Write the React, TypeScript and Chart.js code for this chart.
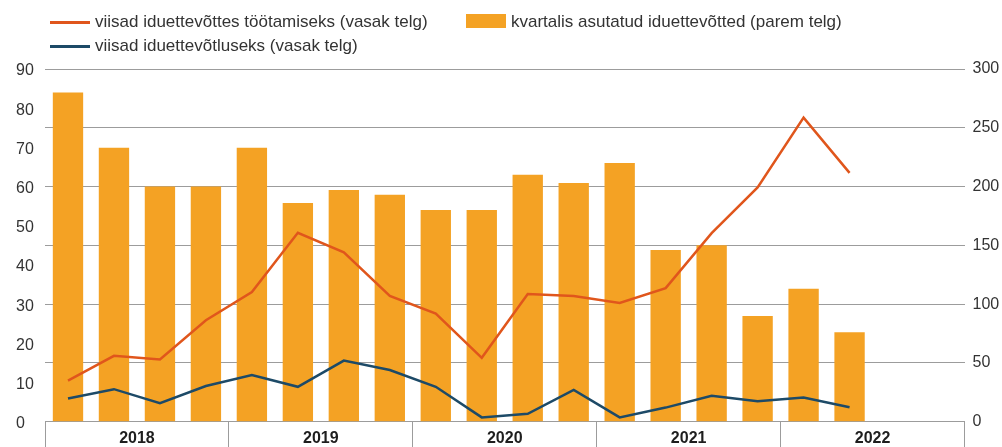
import React, { useEffect, useRef } from 'react';
import { Chart, registerables } from 'chart.js';

Chart.register(...registerables);

const quarters = [
  '2018 I', '2018 II', '2018 III', '2018 IV',
  '2019 I', '2019 II', '2019 III', '2019 IV',
  '2020 I', '2020 II', '2020 III', '2020 IV',
  '2021 I', '2021 II', '2021 III', '2021 IV',
  '2022 I', '2022 II', '2022 III', '2022 IV',
];
const years = ['2018', '2019', '2020', '2021', '2022'];

// right axis (bars)
const startupsFounded = [280, 233, 200, 200, 233, 186, 197, 193, 180, 180, 210, 203, 220, 146, 150, 90, 113, 76];
// left axis (lines)
const visasEmployment = [10.5, 16.8, 15.9, 25.9, 33.1, 48.2, 43.2, 32.1, 27.6, 16.3, 32.6, 32.1, 30.3, 34.1, 48.1, 59.8, 77.6, 63.5];
const visasEntrepreneurship = [5.9, 8.3, 4.7, 9.1, 11.9, 8.9, 15.6, 13.2, 8.9, 1.1, 2.0, 8.1, 1.1, 3.6, 6.6, 5.2, 6.2, 3.7];

const labelEmployment = 'viisad iduettevõttes töötamiseks (vasak telg)';
const labelEntrepreneurship = 'viisad iduettevõtluseks (vasak telg)';
const labelFounded = 'kvartalis asutatud iduettevõtted (parem telg)';

const ORANGE_BAR = '#F4A224';
const ORANGE_LINE = '#E0561C';
const BLUE_LINE = '#1D4A67';
const GRID = '#9c9c9c';
const FONT = '"Liberation Sans", Arial, Helvetica, sans-serif';

export default function App() {
  const ref = useRef<HTMLCanvasElement | null>(null);

  useEffect(() => {
    if (!ref.current) return;
    Chart.defaults.font.family = FONT;
    const chart = new Chart(ref.current, {
      type: 'bar',
      data: {
        labels: quarters,
        datasets: [
          {
            type: 'line',
            label: labelEmployment,
            data: visasEmployment,
            borderColor: ORANGE_LINE,
            backgroundColor: ORANGE_LINE,
            borderWidth: 2.5,
            pointRadius: 0,
            tension: 0,
            xAxisID: 'x',
            yAxisID: 'y',
          },
          {
            type: 'line',
            label: labelEntrepreneurship,
            data: visasEntrepreneurship,
            borderColor: BLUE_LINE,
            backgroundColor: BLUE_LINE,
            borderWidth: 2.5,
            pointRadius: 0,
            tension: 0,
            xAxisID: 'x',
            yAxisID: 'y',
          },
          {
            type: 'bar',
            label: labelFounded,
            data: startupsFounded,
            backgroundColor: ORANGE_BAR,
            borderWidth: 0,
            categoryPercentage: 1,
            barPercentage: 0.66,
            xAxisID: 'x',
            yAxisID: 'y1',
          },
        ],
      },
      options: {
        responsive: false,
        animation: false,
        layout: { padding: { top: 69, left: 16, right: 0, bottom: 0 } },
        plugins: {
          legend: { display: false },
          tooltip: { enabled: false },
        },
        scales: {
          x: {
            type: 'category',
            display: false,
            offset: true,
          },
          xYear: {
            type: 'linear',
            position: 'bottom',
            min: 0,
            max: 20,
            offset: false,
            afterBuildTicks: (scale: any) => {
              const t = [];
              for (let v = 0; v <= 20; v += 2) t.push({ value: v });
              scale.ticks = t;
            },
            afterFit: (scale: any) => {
              scale.height = 25.3;
            },
            grid: {
              offset: false,
              drawOnChartArea: false,
              drawTicks: true,
              tickLength: 26,
              color: (ctx: any) => (ctx.tick && ctx.tick.value % 4 === 0 ? GRID : 'rgba(0,0,0,0)'),
              lineWidth: 1,
            },
            border: { display: true, color: GRID, width: 1 },
            ticks: {
              padding: -19,
              maxRotation: 0,
              autoSkip: false,
              color: '#1e1e1e',
              font: { size: 16, weight: 'bold' },
              callback: (v: any) => (v % 4 === 2 ? years[(v - 2) / 4] : ''),
            },
          },
          y: {
            type: 'linear',
            position: 'left',
            min: 0,
            max: 90,
            afterFit: (scale: any) => {
              scale.width = 29;
            },
            grid: { display: false },
            border: { display: false },
            ticks: {
              stepSize: 10,
              crossAlign: 'far',
              color: '#333',
              labelOffset: 2,
              font: { size: 16 },
            },
          },
          y1: {
            type: 'linear',
            position: 'right',
            min: 0,
            max: 300,
            afterFit: (scale: any) => {
              scale.width = 37.5;
            },
            grid: { color: GRID, lineWidth: 1, drawTicks: false },
            border: { display: false },
            ticks: {
              stepSize: 50,
              padding: 8,
              color: '#333',
              font: { size: 16 },
            },
          },
        },
      },
    } as any);
    return () => chart.destroy();
  }, []);

  const textStyle: React.CSSProperties = {
    position: 'absolute',
    fontFamily: FONT,
    fontSize: 17,
    color: '#333',
    lineHeight: '20px',
    whiteSpace: 'nowrap',
  };

  return (
    <div style={{ position: 'absolute', left: 0, top: 0, width: 1002, height: 447, background: '#fff' }}>
      <canvas ref={ref} width={1002} height={447} style={{ display: 'block', width: 1002, height: 447 }} />
      <div style={{ position: 'absolute', left: 50, top: 20.5, width: 40, height: 3, background: ORANGE_LINE }} />
      <div style={{ ...textStyle, left: 95, top: 12 }}>{labelEmployment}</div>
      <div style={{ position: 'absolute', left: 50, top: 45, width: 40, height: 3, background: BLUE_LINE }} />
      <div style={{ ...textStyle, left: 95, top: 36 }}>{labelEntrepreneurship}</div>
      <div style={{ position: 'absolute', left: 466, top: 14, width: 40, height: 14, background: ORANGE_BAR }} />
      <div style={{ ...textStyle, left: 511, top: 12 }}>{labelFounded}</div>
    </div>
  );
}
